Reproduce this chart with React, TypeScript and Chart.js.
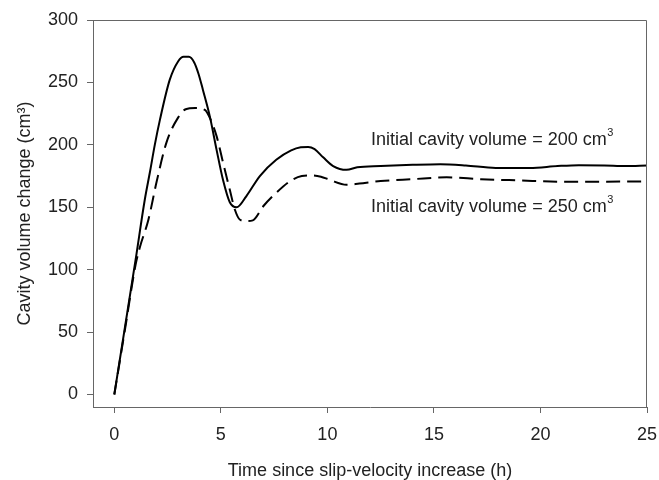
import React, { useEffect, useRef } from "react";
import { Chart, registerables } from "chart.js";

Chart.register(...registerables);

// Initial cavity volume = 200 cm3 (solid)
const solidT = [0, 0.5, 1.0, 1.43, 1.67, 1.9, 2.14, 2.6, 3.0, 3.25, 3.5, 3.75, 3.95, 4.16, 4.48, 4.8, 5.1, 5.42, 5.74, 6.2, 6.83, 7.6, 8.3, 8.75, 9.1, 9.4, 9.8, 10.27, 10.9, 11.4, 12.5, 14.0, 15.3, 16.5, 17.9, 19.5, 20.8, 21.8, 23.0, 24.0, 25];
const solidV = [0, 54, 108, 156, 178, 200, 220, 252, 267, 270.5, 270.5, 266, 257, 244, 223, 196, 172, 154, 150, 159, 175, 188, 195.5, 198, 198.3, 196.5, 190, 183, 180, 182, 183, 184, 184.5, 183.5, 181.5, 181.5, 183, 183.7, 183.5, 183, 183.5];

// Initial cavity volume = 250 cm3 (dashed)
const dashedT = [0, 0.5, 1.0, 1.2, 1.6, 1.98, 2.45, 3.0, 3.35, 3.8, 4.25, 4.5, 4.8, 5.1, 5.42, 5.66, 5.9, 6.2, 6.5, 7.0, 7.6, 8.3, 8.8, 9.3, 9.7, 10.1, 10.9, 11.5, 12.5, 14, 15.6, 17.2, 19, 21, 23, 25];
const dashedV = [0, 52, 104, 118, 140, 170, 202, 222, 228.5, 229.5, 228, 221, 207, 186, 164, 148, 140, 139, 139.5, 151, 161.6, 171.5, 175, 175.5, 174.5, 172, 168, 169, 171, 172.5, 174, 172.5, 171.5, 170.5, 170.5, 170.7];

const xTickValues = [0, 5, 10, 15, 20, 25];
const yTickValues = [0, 50, 100, 150, 200, 250, 300];

const label200 = "Initial cavity volume = 200 cm";
const label250 = "Initial cavity volume = 250 cm";
const labelSup = "3";
const xTitle = "Time since slip-velocity increase (h)";
const yTitle = "Cavity volume change (cm³)";

const FONT = "'Liberation Sans', Arial, sans-serif";
const TEXT = "#222";
const AXIS = "#666";

const boxAndLabels = {
  id: "boxAndLabels",
  afterDraw(chart: any) {
    const ctx = chart.ctx;
    const { left, top, right, bottom } = chart.chartArea;
    ctx.save();
    ctx.strokeStyle = AXIS;
    ctx.lineWidth = 1;
    ctx.beginPath();
    ctx.moveTo(Math.round(left) + 0.5, Math.round(top) + 0.5);
    ctx.lineTo(Math.round(right) - 0.5, Math.round(top) + 0.5);
    ctx.lineTo(Math.round(right) - 0.5, Math.round(bottom));
    ctx.stroke();

    const xs = chart.scales.x;
    const ys = chart.scales.y;
    const draw = (txt: string, xv: number, yv: number) => {
      const px = xs.getPixelForValue(xv);
      const py = ys.getPixelForValue(yv);
      ctx.fillStyle = TEXT;
      ctx.textBaseline = "alphabetic";
      ctx.textAlign = "left";
      ctx.font = `18px ${FONT}`;
      ctx.fillText(txt, px, py);
      const w = ctx.measureText(txt).width;
      ctx.font = `11px ${FONT}`;
      ctx.fillText(labelSup, px + w + 0.5, py - 9);
    };
    draw(label200, 12.05, 199.5);
    draw(label250, 12.05, 146.6);
    ctx.restore();
  },
};

export default function App() {
  const ref = useRef<HTMLCanvasElement | null>(null);
  useEffect(() => {
    if (!ref.current) return;
    const chart = new Chart(ref.current, {
      type: "line",
      data: {
        datasets: [
          {
            label: "200",
            data: solidT.map((t, i) => ({ x: t, y: solidV[i] })),
            borderColor: "#000",
            borderWidth: 2,
            pointRadius: 0,
            cubicInterpolationMode: "monotone",
            fill: false,
          },
          {
            label: "250",
            data: dashedT.map((t, i) => ({ x: t, y: dashedV[i] })),
            borderColor: "#000",
            borderWidth: 2,
            borderDash: [14, 7],
            pointRadius: 0,
            cubicInterpolationMode: "monotone",
            fill: false,
          },
        ],
      },
      options: {
        responsive: false,
        animation: false,
        layout: { padding: { top: 20, right: 12, left: 0, bottom: 0 } },
        plugins: { legend: { display: false }, tooltip: { enabled: false } },
        scales: {
          x: {
            type: "linear",
            min: -1,
            max: 25,
            afterFit: (s: any) => {
              s.height = 73;
              s.paddingLeft = 0;
              s.paddingRight = 0;
            },
            afterBuildTicks: (s: any) => {
              s.ticks = xTickValues.map((v) => ({ value: v }));
            },
            ticks: {
              color: TEXT,
              font: { family: FONT, size: 18 },
              padding: 11,
              maxRotation: 0,
            },
            grid: { drawOnChartArea: false, drawTicks: true, tickLength: 6, color: AXIS },
            border: { display: true, color: AXIS, width: 1 },
            title: {
              display: true,
              text: xTitle,
              color: TEXT,
              font: { family: FONT, size: 18 },
              padding: { top: 0, bottom: -2 },
            },
          },
          y: {
            type: "linear",
            min: -10,
            max: 300,
            afterFit: (s: any) => {
              s.width = 93;
              s.paddingTop = 0;
              s.paddingBottom = 0;
            },
            afterBuildTicks: (s: any) => {
              s.ticks = yTickValues.map((v) => ({ value: v }));
            },
            ticks: {
              color: TEXT,
              font: { family: FONT, size: 18 },
              padding: 9,
            },
            grid: { drawOnChartArea: false, drawTicks: true, tickLength: 6, color: AXIS },
            border: { display: true, color: AXIS, width: 1 },
            title: {
              display: true,
              text: yTitle,
              color: TEXT,
              font: { family: FONT, size: 18 },
              padding: { top: 14, bottom: 0 },
            },
          },
        },
      },
      plugins: [boxAndLabels],
    } as any);
    return () => chart.destroy();
  }, []);
  return (
    <div style={{ position: "absolute", left: 0, top: 0, width: 659, height: 480, background: "#fff" }}>
      <canvas ref={ref} width={659} height={480} style={{ display: "block" }} />
    </div>
  );
}
